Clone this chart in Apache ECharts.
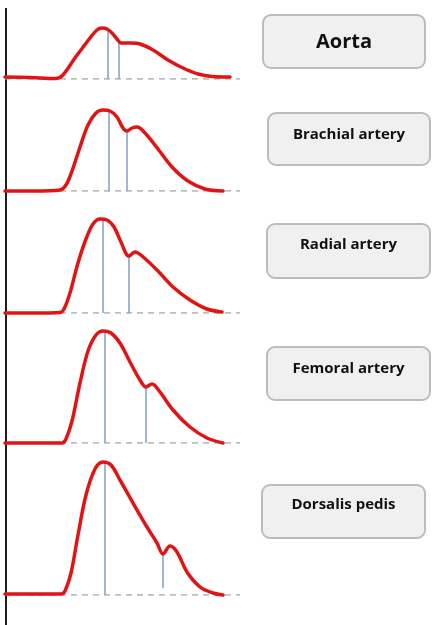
<!DOCTYPE html>
<html>
<head>
<meta charset="utf-8">
<script src="https://cdn.jsdelivr.net/npm/echarts@6/dist/echarts.min.js"></script>
<style>html,body{margin:0;padding:0;background:#fff}#c{width:437px;height:625px}</style>
</head>
<body>
<div id="c"></div>
<script>
// Panel labels (top to bottom)
const categories = ['Aorta', 'Brachial artery', 'Radial artery', 'Femoral artery', 'Dorsalis pedis'];

// Waveforms: time (arbitrary units) and pressure above baseline (arbitrary units)
const aortaT    = [5, 30, 55, 62, 75, 90, 97, 102, 107, 112, 117, 121, 130, 140, 153, 168, 183, 198, 212, 230];
const aortaP    = [2, 1.5, 0.5, 3, 21, 41, 49, 51, 50, 46, 40, 36, 36, 35, 29, 19, 11, 5, 2.5, 2];
const brachialT = [5, 35, 60, 66, 72, 80, 88, 96, 103, 110, 117, 123, 127, 132, 137, 145, 158, 172, 188, 205, 223];
const brachialP = [0, 0, 1, 6, 20, 44, 66, 78, 81, 80, 74, 63, 60, 63, 64, 58, 42, 24, 10, 2, 0];
const radialT   = [5, 35, 60, 64, 70, 78, 86, 93, 100, 107, 114, 121, 129, 135, 142, 157, 173, 190, 207, 222];
const radialP   = [0, 0, 0.5, 4, 20, 50, 74, 89, 94, 93, 86, 71, 57, 61, 57, 43, 26, 13, 4, 1];
const femoralT  = [5, 35, 62, 66, 72, 80, 88, 96, 103, 111, 120, 130, 140, 146, 152, 160, 173, 190, 207, 223];
const femoralP  = [0, 0, 0, 4, 22, 60, 92, 108, 112, 110, 100, 81, 63, 56, 59, 51, 33, 16, 5, 0];
const dorsalisT = [5, 35, 61, 65, 71, 78, 86, 95, 103, 111, 120, 133, 147, 157, 163, 170, 177, 187, 200, 213, 223];
const dorsalisP = [1, 1, 1, 4, 22, 60, 100, 126, 133, 130, 115, 92, 68, 52, 41, 49, 43, 23, 8, 2, 0];

// Marker lines: systolic peak and dicrotic notch (time, top pressure, bottom pressure)
const peakT  = [108, 109, 103, 105, 105];
const peakP  = [49, 80, 93, 112, 133];
const notchT = [119, 127, 129, 146, 163];
const notchP = [39, 60, 57, 56, 41];
const notchBottom = [0, 0, 0, 0, 7];

const waves = [[aortaT, aortaP], [brachialT, brachialP], [radialT, radialP], [femoralT, femoralP], [dorsalisT, dorsalisP]];

// layout of the five panels
const gridTop = [9, 101, 213, 323, 455];
const gridH   = [70, 90, 100, 120, 140];
const boxes = [
  {x: 263, y: 15, w: 162, h: 53, ty: 42, fs: 20},
  {x: 268, y: 113, w: 162, h: 52, ty: 135, fs: 15},
  {x: 267, y: 224, w: 163, h: 54, ty: 245, fs: 15},
  {x: 267, y: 347, w: 163, h: 53, ty: 369, fs: 15},
  {x: 262, y: 485, w: 163, h: 53, ty: 505, fs: 15}
];

const grids = [], xAxes = [], yAxes = [], series = [];
for (let i = 0; i < 5; i++) {
  grids.push({left: 0, width: 240, top: gridTop[i], height: gridH[i]});
  xAxes.push({type: 'value', gridIndex: i, min: 0, max: 240, show: false});
  yAxes.push({type: 'value', gridIndex: i, min: 0, max: gridH[i], show: false});
  // dashed baseline
  series.push({type: 'line', xAxisIndex: i, yAxisIndex: i, data: [[5, 0], [240, 0]], symbol: 'none', silent: true,
    lineStyle: {color: '#a8a8a8', width: 1.5, type: [6, 5]}, z: 1});
  // marker lines
  series.push({type: 'line', xAxisIndex: i, yAxisIndex: i, data: [[peakT[i], 0], [peakT[i], peakP[i]]], symbol: 'none',
    lineStyle: {color: '#7f9fc8', width: 1.5}, z: 2});
  series.push({type: 'line', xAxisIndex: i, yAxisIndex: i, data: [[notchT[i], notchBottom[i]], [notchT[i], notchP[i]]], symbol: 'none',
    lineStyle: {color: '#7f9fc8', width: 1.5}, z: 2});
  // waveform
  const [t, p] = waves[i];
  series.push({type: 'line', name: categories[i], xAxisIndex: i, yAxisIndex: i, data: t.map((v, k) => [v, p[k]]),
    symbol: 'none', smooth: 0.35, clip: false,
    lineStyle: {color: '#e01414', width: 3.5, cap: 'round', join: 'round'}, z: 3});
}

const graphic = [
  {type: 'line', shape: {x1: 6, y1: 8, x2: 6, y2: 625}, style: {stroke: '#1e1e1e', lineWidth: 2}}
];
boxes.forEach((b, i) => {
  graphic.push({type: 'rect', shape: {x: b.x, y: b.y, width: b.w, height: b.h, r: 8},
    style: {fill: '#f0f0f0', stroke: '#bcbcbc', lineWidth: 2}});
  graphic.push({type: 'text', x: b.x + b.w / 2, y: b.ty,
    style: {text: categories[i], fill: '#111', font: 'bold ' + b.fs + 'px "Open Sans", "Noto Sans", sans-serif',
      align: 'center', verticalAlign: 'middle'}});
});

const chart = echarts.init(document.getElementById('c'), null, {renderer: 'canvas'});
chart.setOption({animation: false, grid: grids, xAxis: xAxes, yAxis: yAxes, series: series, graphic: graphic});
</script>
</body>
</html>
